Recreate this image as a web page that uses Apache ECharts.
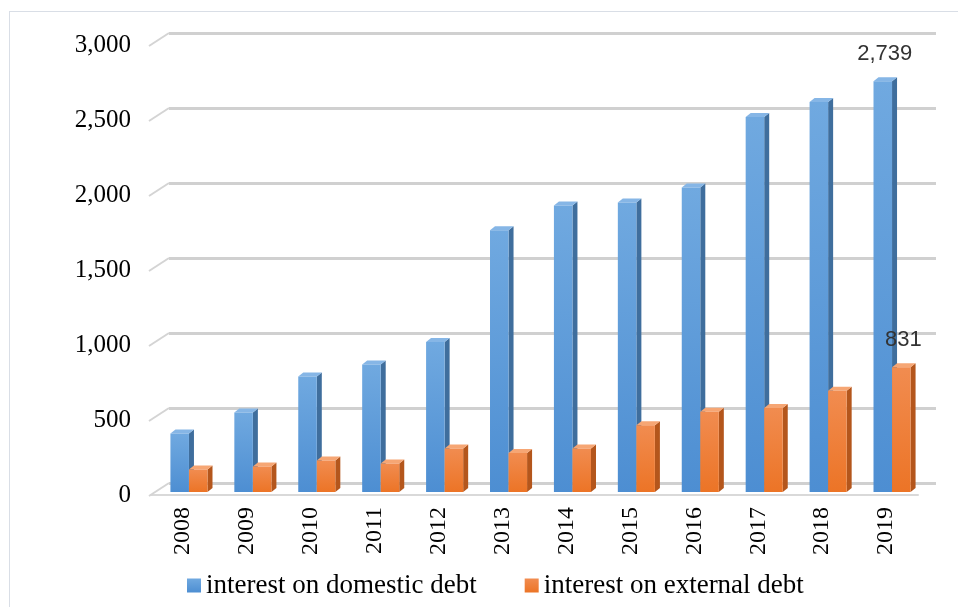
<!DOCTYPE html>
<html lang="en">
<head>
    <meta charset="UTF-8">
    <title>Interest on debt</title>
    <script src="https://cdn.jsdelivr.net/npm/echarts@6/dist/echarts.min.js"></script>
    <style>
        html, body { margin: 0; padding: 0; background: #fff; overflow: hidden; }
        .frame {
            position: absolute; left: 9px; top: 11px; width: 1000px; height: 700px;
            border: 1px solid #d9dee6;
        }
        #chart { position: absolute; left: 0; top: 0; width: 958px; height: 607px; }
    </style>
</head>
<body>
<div class="frame"></div>
<div id="chart"></div>
<script>
    // data
    const years = ['2008', '2009', '2010', '2011', '2012', '2013', '2014', '2015', '2016', '2017', '2018', '2019'];
    const domestic = [390, 530, 770, 850, 1000, 1745, 1910, 1930, 2030, 2500, 2600, 2739];
    const external = [150, 170, 210, 190, 290, 260, 290, 445, 535, 560, 675, 831];
    const yTicks = [0, 500, 1000, 1500, 2000, 2500, 3000];
    const names = ['interest on domestic debt', 'interest on external debt'];

    const serif = 'Liberation Serif';

    const faces = [
        { front: ['#70a9e0', '#4d8ed2'], side: '#3f6e9d', top: '#86b6e6' },
        { front: ['#f18c50', '#ec7426'], side: '#b4561c', top: '#f6a674' }
    ];

    function grad(c) {
        return new echarts.graphic.LinearGradient(0, 0, 0, 1, [
            { offset: 0, color: c[0] },
            { offset: 1, color: c[1] }
        ]);
    }

    function barRenderer(s) {
        return function (params, api) {
            const idx = api.value(0);
            const val = api.value(1);
            const top = api.coord([idx, val]);
            const base = api.coord([idx, 0]);
            const band = api.size([1, 0])[0];
            const w = band * 0.29;
            const dx = 5, dy = 4;
            const x0 = s === 0 ? top[0] - w : top[0];
            const f = faces[s];
            const children = [
                {
                    type: 'polygon',
                    shape: { points: [[x0 + w, top[1]], [x0 + w + dx, top[1] - dy], [x0 + w + dx, base[1] - dy], [x0 + w, base[1]]] },
                    style: { fill: f.side }
                },
                {
                    type: 'polygon',
                    shape: { points: [[x0, top[1]], [x0 + dx, top[1] - dy], [x0 + w + dx, top[1] - dy], [x0 + w, top[1]]] },
                    style: { fill: f.top }
                },
                {
                    type: 'rect',
                    shape: { x: x0, y: top[1], width: w, height: base[1] - top[1] },
                    style: { fill: grad(f.front) }
                }
            ];
            if (params.dataIndex === years.length - 1) {
                children.push({
                    type: 'text',
                    style: {
                        x: x0 + w / 2 + 2, y: top[1] - 16,
                        text: val.toLocaleString('en-US'),
                        fill: '#333',
                        font: '22px "Liberation Sans"',
                        textAlign: 'center', textVerticalAlign: 'bottom'
                    }
                });
            }
            return { type: 'group', children: children };
        };
    }

    const chart = echarts.init(document.getElementById('chart'));
    const option = {
        animation: false,
        grid: [
            // front plane: axis labels and floor edge
            { left: 151, top: 45, width: 767, height: 450 },
            // back wall: gridlines
            { left: 169, top: 33, width: 767, height: 450 },
            // bar plane
            { left: 157, top: 42, width: 767, height: 450 }
        ],
        legend: {
            left: 182,
            top: 567,
            icon: 'rect',
            itemWidth: 14,
            itemHeight: 14,
            itemGap: 48,
            textStyle: { fontFamily: serif, fontSize: 27, color: '#000' },
            data: [
                { name: names[0], itemStyle: { color: grad(faces[0].front) } },
                { name: names[1], itemStyle: { color: grad(faces[1].front) } }
            ]
        },
        xAxis: [
            {
                gridIndex: 0, type: 'category', data: years,
                axisLine: { lineStyle: { color: '#d9d9d9', width: 2 } },
                axisTick: { show: false },
                axisLabel: { rotate: 90, margin: 12, fontFamily: serif, fontSize: 24, color: '#000' }
            },
            { gridIndex: 1, type: 'category', data: years, show: false },
            { gridIndex: 2, type: 'category', data: years, show: false }
        ],
        yAxis: [
            {
                gridIndex: 0, type: 'value', min: 0, max: 3000, interval: 500,
                axisLine: { show: false }, axisTick: { show: false }, splitLine: { show: false },
                axisLabel: {
                    margin: 20, fontFamily: serif, fontSize: 25, color: '#000',
                    formatter: v => v.toLocaleString('en-US')
                }
            },
            {
                gridIndex: 1, type: 'value', min: 0, max: 3000, interval: 500,
                axisLine: { show: false }, axisTick: { show: false }, axisLabel: { show: false },
                splitLine: { lineStyle: { color: '#d0d0d0', width: 3 } }
            },
            { gridIndex: 2, type: 'value', min: 0, max: 3000, interval: 500, show: false }
        ],
        series: [
            {
                // left side wall edges
                type: 'custom', xAxisIndex: 0, yAxisIndex: 0, silent: true,
                data: yTicks.map(v => [0, v]),
                renderItem: function (params, api) {
                    const p = api.coord([0, api.value(1)]);
                    const x = params.coordSys.x;
                    return {
                        type: 'line',
                        shape: { x1: x - 2, y1: p[1] + 1, x2: x + 18, y2: p[1] - 12 },
                        style: { stroke: '#d4d4d4', lineWidth: 2 }
                    };
                }
            },
            {
                name: names[0], type: 'custom', xAxisIndex: 2, yAxisIndex: 2,
                itemStyle: { color: faces[0].front[1] },
                data: domestic.map((v, i) => [i, v]),
                renderItem: barRenderer(0)
            },
            {
                name: names[1], type: 'custom', xAxisIndex: 2, yAxisIndex: 2,
                itemStyle: { color: faces[1].front[1] },
                data: external.map((v, i) => [i, v]),
                renderItem: barRenderer(1)
            }
        ]
    };
    chart.setOption(option);
</script>
</body>
</html>
